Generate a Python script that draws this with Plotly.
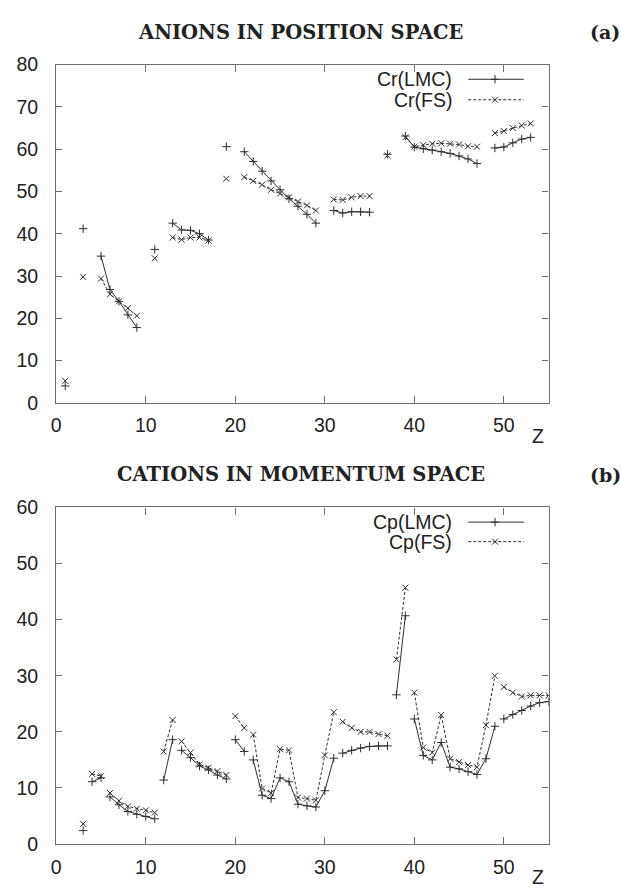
import plotly.graph_objects as go

# ---------------- data ----------------
# (a) anions in position space
Z_A = [1, 3, 5, 6, 7, 8, 9, 11, 13, 14, 15, 16, 17, 19, 21, 22, 23, 24, 25, 26, 27, 28, 29,
       31, 32, 33, 34, 35, 37, 39, 40, 41, 42, 43, 44, 45, 46, 47, 49, 50, 51, 52, 53]
CR_LMC = [4.0, 41.2, 34.7, 26.8, 24.0, 20.8, 17.8, 36.3, 42.5, 40.9, 40.8, 40.0, 38.5, 60.6,
          59.4, 57.1, 54.8, 52.5, 50.4, 48.3, 46.5, 44.6, 42.5, 45.5, 44.9, 45.2, 45.2, 45.1,
          58.8, 63.1, 60.5, 60.1, 59.8, 59.4, 59.0, 58.4, 57.7, 56.6, 60.3, 60.5, 61.5, 62.4, 62.8]
CR_FS = [5.2, 29.8, 29.4, 25.7, 24.0, 22.4, 20.6, 34.2, 39.1, 38.6, 39.1, 39.1, 38.4, 53.0,
         53.4, 52.5, 51.6, 50.4, 49.5, 48.6, 47.6, 46.7, 45.5, 48.1, 48.0, 48.6, 48.9, 48.9,
         58.5, 62.8, 60.6, 61.0, 61.3, 61.4, 61.3, 61.1, 60.7, 60.6, 63.8, 64.3, 65.0, 65.6, 66.1]
BREAKS_A = [1, 3, 9, 11, 17, 19, 29, 35, 37, 47]

# (b) cations in momentum space
Z_B = list(range(3, 56))
CP_LMC = [2.4, 11.1, 11.8, 8.4, 7.0, 5.8, 5.3, 4.9, 4.5, 11.4, 18.6, 16.7, 15.4, 13.9, 13.2,
          12.3, 11.6, 18.6, 16.5, 15.0, 8.7, 8.1, 11.8, 11.1, 7.1, 6.8, 6.6, 9.5, 15.3, 16.2,
          16.7, 17.1, 17.4, 17.5, 17.5, 26.6, 40.7, 22.3, 15.8, 15.0, 18.1, 13.7, 13.4, 12.9,
          12.4, 15.2, 21.0, 22.3, 23.1, 23.8, 24.6, 25.2, 25.4]
CP_FS = [3.6, 12.5, 12.1, 9.1, 7.7, 6.7, 6.3, 6.0, 5.6, 16.5, 22.1, 18.3, 16.3, 14.2, 13.6,
         13.0, 12.3, 22.8, 20.7, 19.5, 9.9, 9.1, 16.9, 16.7, 8.3, 8.1, 7.8, 15.8, 23.5, 21.8,
         20.7, 20.0, 20.0, 19.6, 19.3, 32.9, 45.7, 27.0, 17.2, 16.3, 23.0, 15.2, 14.6, 14.1,
         13.7, 21.2, 30.0, 28.0, 27.0, 26.3, 26.5, 26.5, 26.5]
BREAKS_B = [3, 5, 11, 13, 19, 21, 31, 37, 39, 49]

X_TICKS = [0, 10, 20, 30, 40, 50]
YA_TICKS = [0, 10, 20, 30, 40, 50, 60, 70, 80]
YB_TICKS = [0, 10, 20, 30, 40, 50, 60]

TITLE_A = "ANIONS IN POSITION SPACE"
TITLE_B = "CATIONS IN MOMENTUM SPACE"
LEG_A = ["Cr(LMC)", "Cr(FS)"]
LEG_B = ["Cp(LMC)", "Cp(FS)"]

# ---------------- styling / layout ----------------
W, H = 621, 895
INK = "#2e2e2e"
AXC = "#6e6e6e"
SANS = "Liberation Sans, Arial, sans-serif"
SERIF = "DejaVu Serif, serif"
MSIZE = 6


def px_x(p):
    return p / W


def px_y(p):
    return 1 - p / H


def with_gaps(z, v, breaks):
    xs, ys = [], []
    for zi, vi in zip(z, v):
        xs.append(zi)
        ys.append(vi)
        if zi in breaks:
            xs.append(None)
            ys.append(None)
    return xs, ys


fig = go.Figure()


def add_series(z, v, breaks, xa, ya, dashed):
    xs, ys = with_gaps(z, v, breaks)
    fig.add_trace(go.Scatter(
        x=xs, y=ys, xaxis=xa, yaxis=ya, mode="lines+markers", connectgaps=False,
        line=dict(color=INK, width=1, dash="3px,2px" if dashed else "solid"),
        marker=dict(symbol="x-thin-open" if dashed else "cross-thin-open", size=MSIZE,
                    color=INK, line=dict(color=INK, width=1)),
        showlegend=False, hoverinfo="skip"))


add_series(Z_A, CR_LMC, BREAKS_A, "x", "y", False)
add_series(Z_A, CR_FS, BREAKS_A, "x", "y", True)
add_series(Z_B, CP_LMC, BREAKS_B, "x2", "y2", False)
add_series(Z_B, CP_FS, BREAKS_B, "x2", "y2", True)

# legend keys drawn on a full-figure helper axis measured in pixels
LEG_ROWS_A = [70, 91]
LEG_ROWS_B = [524, 544]
for rows in (LEG_ROWS_A, LEG_ROWS_B):
    for k, yy in enumerate(rows):
        dashed = k == 1
        fig.add_trace(go.Scatter(
            x=[467, 523], y=[yy, yy], xaxis="x3", yaxis="y3", mode="lines",
            line=dict(color=INK, width=1, dash="3px,2px" if dashed else "solid"),
            showlegend=False, hoverinfo="skip"))
        fig.add_trace(go.Scatter(
            x=[494], y=[yy], xaxis="x3", yaxis="y3", mode="markers",
            marker=dict(symbol="x-thin-open" if dashed else "cross-thin-open", size=MSIZE,
                        color=INK, line=dict(color=INK, width=1)),
            showlegend=False, hoverinfo="skip"))

x_dom = [px_x(51.7), px_x(548)]
common_x = dict(range=[0, 55], tickvals=X_TICKS, ticks="inside", ticklen=7, tickwidth=1,
                tickcolor=AXC, showline=True, linecolor=AXC, linewidth=1.3, mirror="ticks",
                showgrid=False, zeroline=False, ticklabelstandoff=5,
                tickfont=dict(family=SANS, size=19.5, color="#222"))
common_y = dict(ticks="inside", ticklen=6, tickwidth=1, tickcolor=AXC, showline=True,
                linecolor=AXC, linewidth=1.3, mirror="ticks", showgrid=False, zeroline=False,
                ticklabelstandoff=13, tickfont=dict(family=SANS, size=19.5, color="#222"))

fig.update_layout(
    width=W, height=H, margin=dict(l=0, r=0, t=0, b=0),
    paper_bgcolor="white", plot_bgcolor="rgba(0,0,0,0)",
    xaxis=dict(domain=x_dom, anchor="y", **common_x),
    yaxis=dict(domain=[px_y(401.7), px_y(55)], anchor="x", range=[0, 80],
               tickvals=YA_TICKS, **common_y),
    xaxis2=dict(domain=x_dom, anchor="y2", **common_x),
    yaxis2=dict(domain=[px_y(854), px_y(509)], anchor="x2", range=[0, 60],
                tickvals=YB_TICKS, **common_y),
    xaxis3=dict(domain=[0, 1], range=[0, W], visible=False, anchor="y3", fixedrange=True),
    yaxis3=dict(domain=[0, 1], range=[H, 0], visible=False, anchor="x3", fixedrange=True),
)

ann = []
for txt, yy in ((TITLE_A, 22), (TITLE_B, 475)):
    ann.append(dict(text="<b>%s</b>" % txt, x=px_x(298), y=px_y(yy), xref="paper", yref="paper",
                    showarrow=False, xanchor="center", yanchor="middle",
                    font=dict(family=SERIF, size=19.5, color="#222")))
for txt, yy in (("<b>(a)</b>", 22), ("<b>(b)</b>", 476)):
    ann.append(dict(text=txt, x=px_x(605), y=px_y(yy), xref="paper", yref="paper",
                    showarrow=False, xanchor="center", yanchor="middle",
                    font=dict(family=SERIF, size=19, color="#222")))
for yy in (436, 888):
    ann.append(dict(text="Z", x=px_x(537), y=px_y(yy), xref="paper", yref="paper",
                    showarrow=False, xanchor="center", yanchor="middle",
                    font=dict(family=SANS, size=19.5, color="#222")))
for labels, rows in ((LEG_A, LEG_ROWS_A), (LEG_B, LEG_ROWS_B)):
    for lab, yy in zip(labels, rows):
        ann.append(dict(text=lab, x=px_x(453), y=px_y(yy), xref="paper", yref="paper",
                        showarrow=False, xanchor="right", yanchor="middle",
                        font=dict(family=SANS, size=19.5, color="#222")))
fig.update_layout(annotations=ann)

fig.write_html("out.html")
